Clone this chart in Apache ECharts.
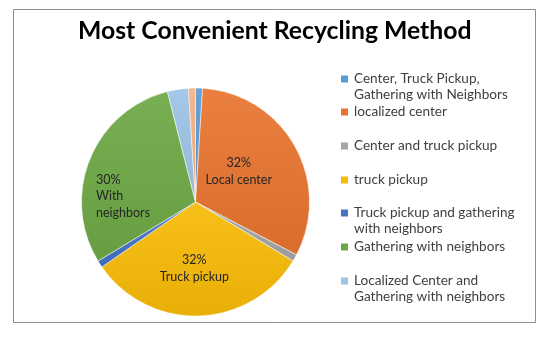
<!DOCTYPE html>
<html>
<head>
<meta charset="utf-8">
<style>
  html, body { margin: 0; padding: 0; background: #fff; }
  #chart { width: 551px; height: 337px; }
</style>
<script src="https://cdn.jsdelivr.net/npm/echarts@6/dist/echarts.min.js"></script>
</head>
<body>
<div id="chart"></div>
<script>
// Survey answers: most convenient recycling method (share of respondents, %)
const categories = [
  'Center, Truck Pickup,\nGathering with Neighbors',
  'localized center',
  'Center and truck pickup',
  'truck pickup',
  'Truck pickup and gathering\nwith neighbors',
  'Gathering with neighbors',
  'Localized Center and\nGathering with neighbors',
  'Other'
];
const values = [1, 32, 1, 32, 1, 30, 3, 1];
const colors = ['#5B9BD5', '#E8742F', '#A5A5A5', '#F7BA06', '#4472C4', '#6DA845', '#9DC3E6', '#F4B183'];
// Short captions written inside the three large slices
const sliceCaptions = [null, 'Local center', null, 'Truck pickup', null, 'With\nneighbors', null, null];
const legendNames = categories.slice(0, 7);
const legendRowCenters = [79, 112, 146, 180, 213, 247, 281];

const FONT = 'Lato';
const LINE = 16;

function shade(hex, amt) {
  const n = parseInt(hex.slice(1), 16);
  const ch = [(n >> 16) & 255, (n >> 8) & 255, n & 255].map(c => {
    const v = amt >= 0 ? c + (255 - c) * amt : c * (1 + amt);
    return Math.max(0, Math.min(255, Math.round(v)));
  });
  return 'rgb(' + ch.join(',') + ')';
}

// One legend block per entry; wrapped names keep their swatch beside the first line
const legends = legendNames.map((name, i) => {
  const wrapped = name.indexOf('\n') >= 0;
  return {
    data: [{ name: name, itemStyle: { color: colors[i], borderWidth: 0 } }],
    formatter: n => (wrapped ? '\n' : '') + n,
    left: 341,
    top: legendRowCenters[i] - (wrapped ? 24 : 8),
    padding: 0,
    icon: 'path://M0,0h10v10h-10z',
    itemWidth: 7,
    itemHeight: 15,
    symbolKeepAspect: true,
    itemGap: 0,
    selectedMode: false,
    itemStyle: { borderWidth: 0 },
    textStyle: {
      fontFamily: FONT,
      fontSize: 13.6,
      color: '#404040',
      lineHeight: LINE,
      padding: [0, 0, 0, 1]
    }
  };
});

const labelOffsets = { 1: [-9, -1], 3: [-3, 6], 5: [-16, 17] };

function sliceLabel(i) {
  const lines = sliceCaptions[i].split('\n');
  return {
    show: true,
    position: 'inside',
    offset: labelOffsets[i],
    formatter: p => [Math.round(p.percent) + '%'].concat(lines)
      .map(t => '{t|' + t + '}').join('\n'),
    rich: {
      t: {
        fontFamily: FONT,
        fontSize: 12.5,
        lineHeight: i === 5 ? 16.5 : 17,
        color: '#262626',
        width: i === 5 ? 56 : undefined,
        align: i === 5 ? 'left' : 'center'
      }
    }
  };
}

const chart = echarts.init(document.getElementById('chart'), null, { renderer: 'canvas' });
chart.setOption({
  animation: false,
  backgroundColor: '#fff',
  color: colors,
  title: {
    text: 'Most Convenient Recycling Method',
    left: 78,
    top: 19,
    padding: 0,
    textStyle: { fontFamily: FONT, fontWeight: 'bold', fontSize: 24.75, color: '#000' }
  },
  legend: legends,
  graphic: [{
    type: 'rect',
    shape: { x: 13.5, y: 9.5, width: 522, height: 313 },
    style: { fill: 'none', stroke: '#8c8c8c', lineWidth: 1 },
    silent: true,
    z: -1
  }],
  series: [{
    type: 'pie',
    center: [195.5, 202],
    radius: [0, 114],
    startAngle: 90,
    clockwise: true,
    avoidLabelOverlap: false,
    percentPrecision: 2,
    label: { show: false },
    labelLine: { show: false },
    data: categories.map((name, i) => {
      const item = {
        name: name,
        value: values[i],
        itemStyle: {
          borderColor: '#fff',
          borderWidth: 0.5,
          color: new echarts.graphic.LinearGradient(0, 0, 0, 1, [
            { offset: 0, color: shade(colors[i], 0.08) },
            { offset: 1, color: shade(colors[i], -0.06) }
          ])
        }
      };
      if (sliceCaptions[i]) item.label = sliceLabel(i);
      return item;
    })
  }]
});
</script>
</body>
</html>
